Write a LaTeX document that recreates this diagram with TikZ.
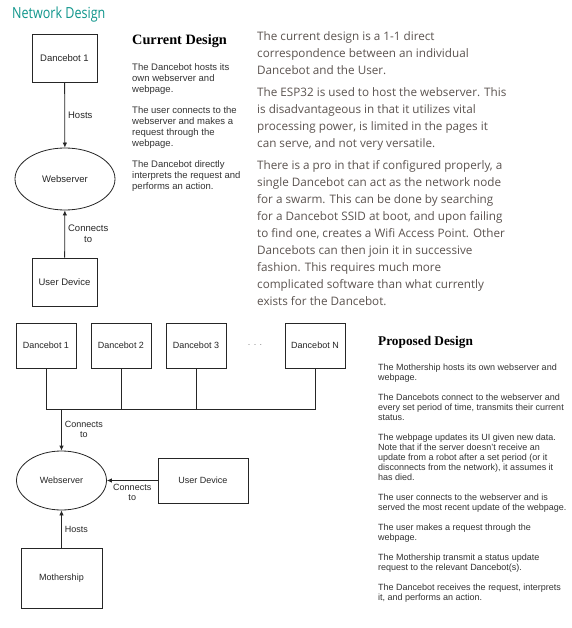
\documentclass[tikz,border=0pt]{standalone}
\usepackage{fontspec}
\setmainfont{Liberation Sans}
\newfontfamily\opensans{Open Sans}
\newfontfamily\titlefont[FakeStretch=0.82]{Open Sans}
\newfontfamily\headfont{Liberation Serif}
\usepackage{xcolor}
\usetikzlibrary{positioning, arrows.meta, shapes.geometric}
\definecolor{titleteal}{RGB}{16,150,140}
\definecolor{bodygray}{RGB}{92,84,80}

\begin{document}
\begin{tikzpicture}[
  x=1pt, y=-1pt,
  box/.style={
    rectangle, draw=black!85, line width=0.8pt, font=\fontsize{9}{11}\selectfont,
    text=black!85, inner sep=2pt
  },
  server/.style={
    ellipse, draw=black!85, line width=0.8pt, font=\fontsize{9}{11}\selectfont,
    text=black!85, inner sep=0pt
  },
  lbl/.style={font=\fontsize{9}{10}\selectfont, align=center, inner sep=3pt, text=black!85},
  arrow/.style={-{Latex[length=5pt,width=4.5pt]}, line width=0.8pt, draw=black!85},
  wire/.style={line width=0.8pt, draw=black!85},
  notes/.style={anchor=north west, inner sep=0pt, align=left, text=black!80},
  heading/.style={anchor=base west, inner sep=0pt, font=\headfont\bfseries}
]
\fill[white] (0,0) rectangle (571,628);
\useasboundingbox (0,0) rectangle (571,628);

% ==================== TITLE ====================
\node[anchor=base west, inner sep=0pt, text=titleteal, font=\titlefont\fontsize{15.3}{18}\selectfont] (title) at (12,19) {Network Design};

% ==================== CURRENT DESIGN ====================
\node[box, minimum width=65pt, minimum height=48pt, font=\fontsize{9.5}{11}\selectfont] (bot_one) at (64.5,58) {Dancebot 1};
\node[server, minimum width=100pt, minimum height=62pt, font=\fontsize{9.5}{11}\selectfont] (srv_cur) at (65,179) {Webserver};
\node[box, minimum width=65pt, minimum height=48pt, font=\fontsize{9.5}{11}\selectfont] (user_cur) at (64.5,282) {User Device};

\draw[arrow] (bot_one) -- node[lbl, right, font=\fontsize{9.5}{11}\selectfont] {Hosts} (srv_cur);
\draw[arrow] (user_cur) -- node[lbl, right, font=\fontsize{9.5}{11}\selectfont] {Connects\\to} (srv_cur);

\node[heading, font=\headfont\bfseries\fontsize{14.3}{16}\selectfont] (cur_head) at (132,44.5) {Current Design};
\node[notes, font=\fontsize{9.5}{11}\selectfont] (cur_notes) at (132,63.5) {%
  The Dancebot hosts its\\ own webserver and\\ webpage.\\[10pt]
  The user connects to the\\ webserver and makes a\\ request through the\\ webpage.\\[10pt]
  The Dancebot directly\\ interprets the request and\\ performs an action.};

\node[notes, text=bodygray, font=\opensans\fontsize{11.7}{17}\selectfont] (discussion) at (257,31) {%
  The current design is a 1-1 direct\\ correspondence between an individual\\ Dancebot and the User.\\[5pt]
  The ESP32 is used to host the webserver. This\\ is disadvantageous in that it utilizes vital\\ processing power, is limited in the pages it\\ can serve, and not very versatile.\\[5pt]
  There is a pro in that if configured properly, a\\ single Dancebot can act as the network node\\ for a swarm. This can be done by searching\\ for a Dancebot SSID at boot, and upon failing\\ to find one, creates a Wifi Access Point. Other\\ Dancebots can then join it in successive\\ fashion. This requires much more\\ complicated software than what currently\\ exists for the Dancebot.};

% ==================== PROPOSED DESIGN ====================
\foreach \i/\name/\x in {1/1/46, 2/2/121, 3/3/196, n/N/315}
  \node[box, minimum width=60pt, minimum height=45pt] (bot_\i) at (\x,345.5) {Dancebot \name};
\node[font=\fontsize{9}{10}\selectfont, text=black!50] (dots) at (255,345) {. . .};

\coordinate (bus) at (61.5,409);
\draw[wire] (bot_1.south) |- (bot_n.south |- bus) -- (bot_n.south);
\foreach \i in {2,3}
  \draw[wire] (bot_\i.south) -- (bot_\i.south |- bus);

\node[server, minimum width=90pt, minimum height=59pt] (srv_new) at (61.5,480.5) {Webserver};
\node[box, minimum width=90pt, minimum height=45pt] (user_new) at (203,480.5) {User Device};
\node[box, minimum width=81pt, minimum height=60pt] (mother) at (61.5,578) {Mothership};

\draw[arrow] (bus) -- node[lbl, right] {Connects\\to} (srv_new);
\draw[arrow] (user_new) -- node[lbl, below] {Connects\\to} (srv_new);
\draw[arrow] (mother) -- node[lbl, right] {Hosts} (srv_new);

\node[heading, font=\headfont\bfseries\fontsize{13.3}{15}\selectfont] (new_head) at (378,345) {Proposed Design};
\node[notes, font=\fontsize{9}{10}\selectfont] (new_notes) at (378,364) {%
  The Mothership hosts its own webserver and\\ webpage.\\[10pt]
  The Dancebots connect to the webserver and\\ every set period of time, transmits their current\\ status.\\[10pt]
  The webpage updates its UI given new data.\\ Note that if the server doesn't receive an\\ update from a robot after a set period (or it\\ disconnects from the network), it assumes it\\ has died.\\[10pt]
  The user connects to the webserver and is\\ served the most recent update of the webpage.\\[10pt]
  The user makes a request through the\\ webpage.\\[10pt]
  The Mothership transmit a status update\\ request to the relevant Dancebot(s).\\[10pt]
  The Dancebot receives the request, interprets\\ it, and performs an action.};
\end{tikzpicture}
\end{document}
